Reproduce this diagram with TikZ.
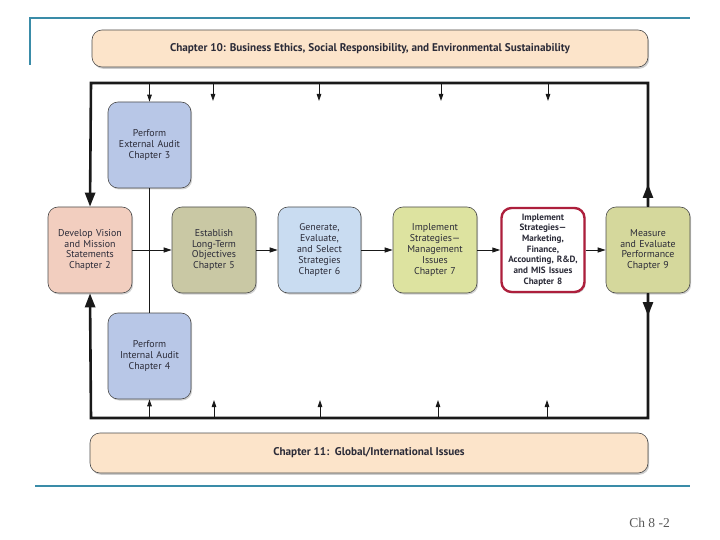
\documentclass[tikz,border=0pt]{standalone}
\usepackage{fontspec}
\setmainfont{PT Sans}
\newfontfamily\serifnum{Liberation Serif}
\usetikzlibrary{arrows.meta,shadows}
\definecolor{teal}{HTML}{3A8CA8}
\definecolor{peach}{HTML}{FCE4CA}
\definecolor{auditblue}{HTML}{B8C7E7}
\definecolor{visionpink}{HTML}{F2CEBF}
\definecolor{olive}{HTML}{C9C8A4}
\definecolor{genblue}{HTML}{C9DCF1}
\definecolor{implgreen}{HTML}{DDE3A0}
\definecolor{measure}{HTML}{D5D89C}
\definecolor{crimson}{HTML}{AD1F3C}
\definecolor{txt}{HTML}{2B2B38}
\tikzset{
  stagebox/.style={draw=black!70, line width=0.6pt, rounded corners=10pt,
    minimum width=83pt, minimum height=86pt, inner sep=1pt,
    align=center, text width=81pt, font=\fontsize{9.9}{10.9}\selectfont, text=txt,
    drop shadow={shadow xshift=1.2pt, shadow yshift=-1.5pt, opacity=0.35}},
  banner/.style={draw=black!70, line width=0.6pt, rounded corners=10pt, fill=peach,
    align=center, font=\bfseries\fontsize{11.2}{12}\selectfont, text=txt,
    drop shadow={shadow xshift=1.2pt, shadow yshift=-1.8pt, opacity=0.4}},
  frame/.style={line width=2.6pt, black!90},
  bigtip/.style={-{Triangle[length=14pt,width=10pt]}},
  stub/.style={line width=0.8pt, black!90, -{Triangle[length=7pt,width=4.5pt]}},
  flow/.style={line width=0.9pt, black!90, -{Triangle[length=8pt,width=5pt]}},
  rule/.style={teal, line width=1.6pt}
}
\begin{document}
\begin{tikzpicture}[x=1pt,y=-1pt]
\useasboundingbox (0,0) rectangle (720,540);
% teal rules
\coordinate (r1a) at (30,65);
\coordinate (r1b) at (30,18);
\coordinate (r1c) at (690,18);
\draw[rule] (r1a) -- (r1b) -- (r1c);
\coordinate (r2a) at (35,486);
\coordinate (r2b) at (690,486);
\draw[rule] (r2a) -- (r2b);
% banners
\node[banner, minimum width=556pt, minimum height=37pt] (ch10) at (370,48.5)
  {Chapter 10: Business Ethics, Social Responsibility, and Environmental Sustainability};
\node[banner, minimum width=558pt, minimum height=40pt] (ch11) at (369,453)
  {Chapter 11:\ \ Global/International Issues};
% frame coordinates
\coordinate (tl) at (91,83);
\coordinate (tr) at (648,83);
\coordinate (bl) at (91,418);
\coordinate (br) at (648,418);
% stage boxes
\node[stagebox, fill=auditblue] (ext) at (149.5,145) {Perform\\External Audit\\Chapter 3};
\node[stagebox, fill=auditblue] (int) at (149.5,356) {Perform\\Internal Audit\\Chapter 4};
\node[stagebox, fill=visionpink, minimum width=84pt] (vis) at (90,250) {Develop Vision\\and Mission\\Statements\\Chapter 2};
\node[stagebox, fill=olive, minimum width=84pt] (obj) at (214,250) {Establish\\Long-Term\\Objectives\\Chapter 5};
\node[stagebox, fill=genblue] (gen) at (319.5,250) {Generate,\\Evaluate,\\and Select\\Strategies\\Chapter 6};
\node[stagebox, fill=implgreen, minimum width=84pt] (imp) at (435,250) {Implement\\Strategies---\\Management\\Issues\\Chapter 7};
\node[stagebox, fill=white, draw=crimson, line width=2.4pt, minimum width=82pt, minimum height=84pt,
  font=\bfseries\fontsize{9.1}{10.7}\selectfont] (mkt) at (543,250)
  {Implement\\Strategies---\\Marketing,\\Finance,\\Accounting, R\&D,\\and MIS Issues\\Chapter 8};
\node[stagebox, fill=measure, minimum width=84pt] (mea) at (648,250) {Measure\\and Evaluate\\Performance\\Chapter 9};
% frame
\coordinate (mu) at (648,184);
\coordinate (md) at (648,316);
\draw[frame, bigtip] (mea.north) -- (tr) -- (tl) -- (vis.north);
\draw[frame, bigtip] (mea.south) -- (br) -- (bl) -- (vis.south);
\draw[frame, bigtip] (mea.north) -- (mu);
\draw[frame, bigtip] (mea.south) -- (md);
% top stubs
\coordinate (t1) at (149.5,83);
\draw[stub] (t1) -- (ext.north);
\foreach \i/\x in {2/213,3/319,4/441,5/548}{
  \coordinate (t\i) at (\x,83);
  \coordinate (te\i) at (\x,101);
  \draw[stub] (t\i) -- (te\i);
}
% bottom stubs
\coordinate (b1) at (149.5,418);
\draw[stub] (b1) -- (int.south);
\foreach \i/\x in {2/214,3/320,4/438,5/547}{
  \coordinate (b\i) at (\x,418);
  \coordinate (be\i) at (\x,400);
  \draw[stub] (b\i) -- (be\i);
}
% audit line
\draw[line width=0.9pt, black!90] (ext.south) -- (int.north);
% flow arrows
\draw[flow] (vis.east) -- (obj.west);
\draw[flow] (obj.east) -- (gen.west);
\draw[flow] (gen.east) -- (imp.west);
\draw[flow] (imp.east) -- (mkt.west);
\draw[flow] (mkt.east) -- (mea.west);
% page number
\node[anchor=east, font=\serifnum\fontsize{13.5}{15}\selectfont, text=black!65, inner sep=0pt] (pg) at (670,523) {Ch 8 -2};
\end{tikzpicture}
\end{document}
